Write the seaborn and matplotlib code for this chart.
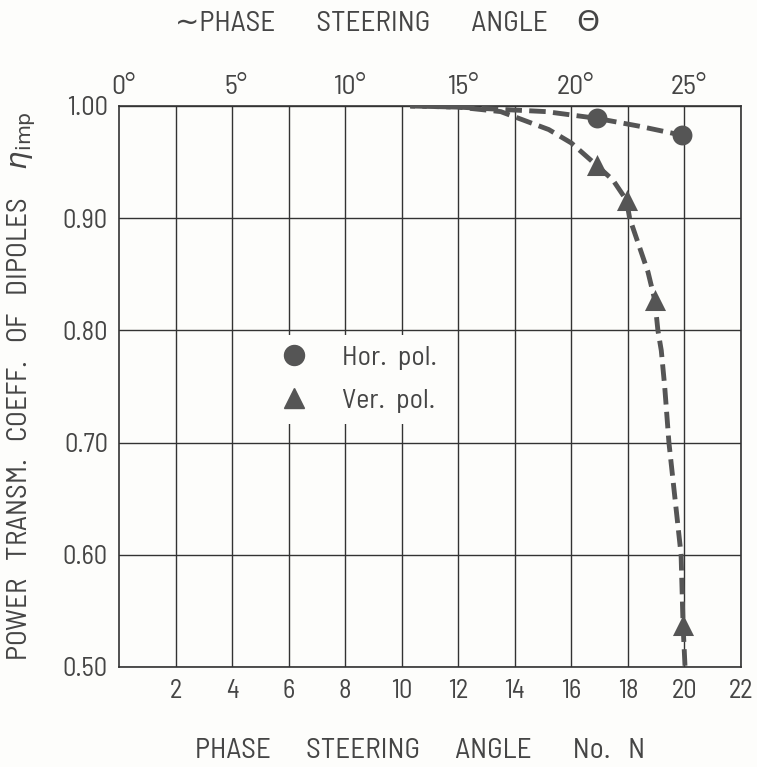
import matplotlib
matplotlib.use("Agg")
import matplotlib.pyplot as plt
import matplotlib.transforms as mtransforms
import seaborn as sns
import pandas as pd
from matplotlib.lines import Line2D
from matplotlib import font_manager

# ---- data ----
hor_curve_N = [10.3, 12.0, 13.5, 15.1, 16.9, 18.4, 19.9]
hor_curve_eta = [1.000, 0.999, 0.997, 0.995, 0.989, 0.982, 0.974]
ver_curve_N = [10.3, 12.0, 13.5, 15.2, 16.0, 16.9, 17.47, 17.95, 18.06, 18.71, 18.95,
               19.06, 19.18, 19.3, 19.45, 19.88, 19.95, 20.02]
ver_curve_eta = [1.000, 0.999, 0.995, 0.979, 0.967, 0.947, 0.934, 0.916, 0.900, 0.852, 0.827,
                 0.800, 0.782, 0.750, 0.700, 0.600, 0.537, 0.500]
hor_N = [16.9, 19.9]
hor_eta = [0.989, 0.974]
ver_N = [16.9, 17.95, 18.95, 19.95]
ver_eta = [0.947, 0.916, 0.827, 0.537]
x_ticks = [2, 4, 6, 8, 10, 12, 14, 16, 18, 20, 22]
y_ticks = [0.50, 0.60, 0.70, 0.80, 0.90, 1.00]
y_labels = ["0.50", "0.60", "0.70", "0.80", "0.90", "1.00"]
top_ticks = [0, 4, 8, 12, 16, 20]
top_labels = ["0°", "5°", "10°", "15°", "20°", "25°"]
legend_labels = ["Hor.  pol.", "Ver.  pol."]

sns.set_theme(style="white")
avail = {f.name for f in font_manager.fontManager.ttflist}
pref = ["Barlow Semi Condensed", "Roboto Condensed", "Archivo Narrow", "Roboto"]
fam = [f for f in pref if f in avail][:1]
plt.rcParams["font.family"] = fam + ["DejaVu Sans"]
plt.rcParams["font.weight"] = "normal"
plt.rcParams["mathtext.fontset"] = "dejavusans"

TXT = "#454545"
LINE = "#555555"
GRID = "#333333"
BG = "#fdfdfb"

fig = plt.figure(figsize=(7.57, 7.67), dpi=100)
fig.patch.set_facecolor(BG)
ax = fig.add_axes([0.1572, 0.1304, 0.8217, 0.7314])
ax.set_facecolor(BG)

hor_df = pd.DataFrame({"N": hor_curve_N, "eta": hor_curve_eta})
ver_df = pd.DataFrame({"N": ver_curve_N, "eta": ver_curve_eta})
sns.lineplot(data=hor_df, x="N", y="eta", ax=ax, color=LINE, lw=3.5,
             linestyle=(0, (3.4, 1.5)), estimator=None, sort=False, zorder=3)
sns.lineplot(data=ver_df, x="N", y="eta", ax=ax, color=LINE, lw=3.5,
             linestyle=(2.4, (3.4, 1.5)), estimator=None, sort=False, zorder=3)

sns.scatterplot(x=hor_N, y=hor_eta, ax=ax, marker="o", s=205, color=LINE,
                edgecolor=LINE, linewidth=0, zorder=4, clip_on=False)
sns.scatterplot(x=ver_N, y=ver_eta, ax=ax, marker="^", s=230, color=LINE,
                edgecolor=LINE, linewidth=0, zorder=4, clip_on=False)

ax.set_xlim(0, 22)
ax.set_ylim(0.50, 1.00)
ax.set_xticks(x_ticks)
ax.set_xticklabels([str(t) for t in x_ticks], fontsize=19, color=TXT)
ax.set_yticks(y_ticks)
ax.set_yticklabels(y_labels, fontsize=19, color=TXT)
ax.tick_params(axis="x", length=0, pad=9)
ax.tick_params(axis="y", length=0, pad=8)
ax.grid(True, color=GRID, lw=1.0)
ax.set_axisbelow(True)
for s in ax.spines.values():
    s.set_color(GRID)
    s.set_linewidth(1.2)

ax.set_xlabel("PHASE      STEERING      ANGLE       No.   N", fontsize=21, color=TXT)
ax.xaxis.set_label_coords(0.484, -0.126)
ax.set_ylabel("POWER   TRANSM.   COEFF.   OF   DIPOLES     $\\eta_{\\rm imp}$",
              fontsize=21, color=TXT)
ax.yaxis.set_label_coords(-0.13, 0.50)

top = ax.secondary_xaxis("top")
top.set_xticks(top_ticks)
top.set_xticklabels(top_labels, fontsize=20, color=TXT)
top.tick_params(length=0, pad=5)
top.spines["top"].set_visible(False)
shift = mtransforms.ScaledTranslation(4 / 100, 0, fig.dpi_scale_trans)
for lbl in top.get_xticklabels():
    lbl.set_transform(lbl.get_transform() + shift)

fig.text(0.512, 0.969, "∼PHASE       STEERING       ANGLE     Θ", ha="center", va="center",
         fontsize=21, color=TXT)

handles = [Line2D([], [], marker="o", ls="none", color=LINE, markersize=14.4),
           Line2D([], [], marker="^", ls="none", color=LINE, markersize=15)]
leg = ax.legend(handles, legend_labels, loc="center left", bbox_to_anchor=(0.196, 0.513),
                frameon=True, fontsize=20, labelcolor=TXT, handletextpad=0.75,
                labelspacing=0.65, facecolor=BG, edgecolor="none", framealpha=1.0)

fig.savefig("out.png", dpi=100, facecolor=fig.get_facecolor())
